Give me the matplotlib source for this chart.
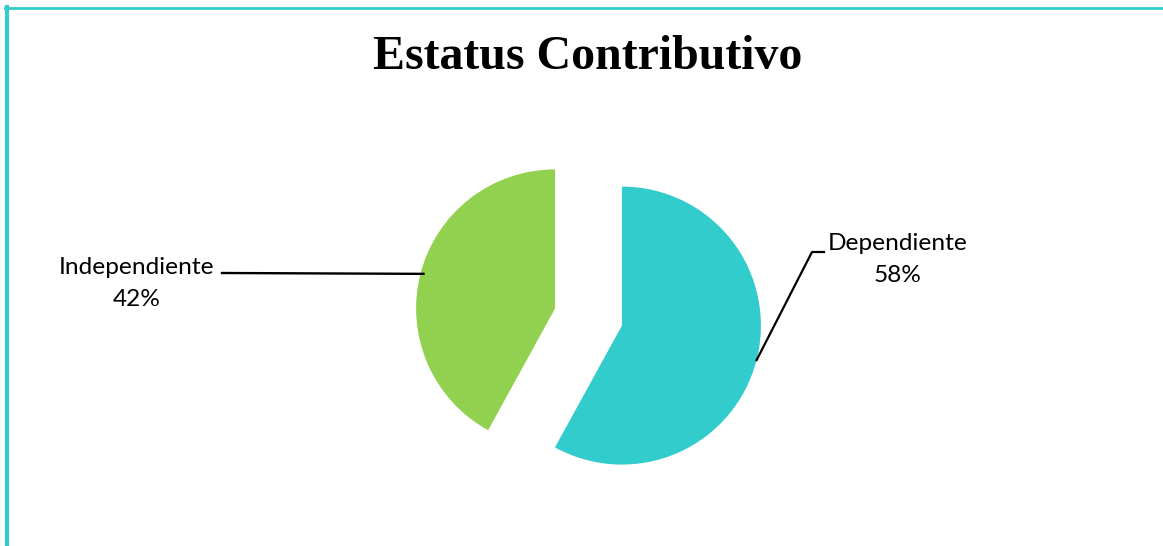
import numpy as np
import matplotlib
matplotlib.use("Agg")
import matplotlib.pyplot as plt
from matplotlib.lines import Line2D

title = "Estatus Contributivo"
categories = ["Dependiente", "Independiente"]
values = [58, 42]
colors = ["#33CCCC", "#92D050"]

W, H = 1163, 546
fig = plt.figure(figsize=(W / 100, H / 100), dpi=100)
ax = fig.add_axes([0, 0, 1, 1])

cx, cy = 588.5, H - 317
R = 139
wedges, _ = ax.pie(values, colors=colors, startangle=90, counterclock=False,
                   explode=[34.5, 34.5], center=(cx, cy), radius=R,
                   wedgeprops=dict(linewidth=0), frame=True)
ax.set_xlim(0, W)
ax.set_ylim(0, H)
ax.set_aspect("equal")
ax.axis("off")

def edge_point(w):
    th = np.deg2rad((w.theta1 + w.theta2) / 2)
    c = w.center
    return c[0] + w.r * np.cos(th), c[1] + w.r * np.sin(th)

font = "Lato"
fs = 17.6
# Dependiente
ex, ey = edge_point(wedges[0])
ax.plot([ex, 812, 824], [ey, H - 252, H - 252], color="black", lw=1.6)
ax.text(898, H - 243, f"{categories[0]}", ha="center", va="center",
        fontsize=fs, family=font)
ax.text(898, H - 275, f"{values[0]}%", ha="center", va="center",
        fontsize=fs, family=font)
# Independiente
ex, ey = edge_point(wedges[1])
ax.plot([ex + 3, 222], [ey, H - 273], color="black", lw=1.7)
ax.text(137, H - 267, f"{categories[1]}", ha="center", va="center",
        fontsize=fs, family=font)
ax.text(137, H - 300, f"{values[1]}%", ha="center", va="center",
        fontsize=fs, family=font)

fig.text(588 / W, 1 - 57 / H, title, ha="center", va="center",
         fontsize=34.5, fontweight="bold", family="Liberation Serif")

# border
fig.add_artist(Line2D([5 / W, 1], [1 - 8 / H, 1 - 8 / H], color="#33CCCC",
                      lw=2, transform=fig.transFigure))
fig.add_artist(Line2D([7 / W, 7 / W], [0, 1 - 7 / H], color="#33CCCC",
                      lw=3, transform=fig.transFigure))

fig.savefig("out.png", dpi=100)
